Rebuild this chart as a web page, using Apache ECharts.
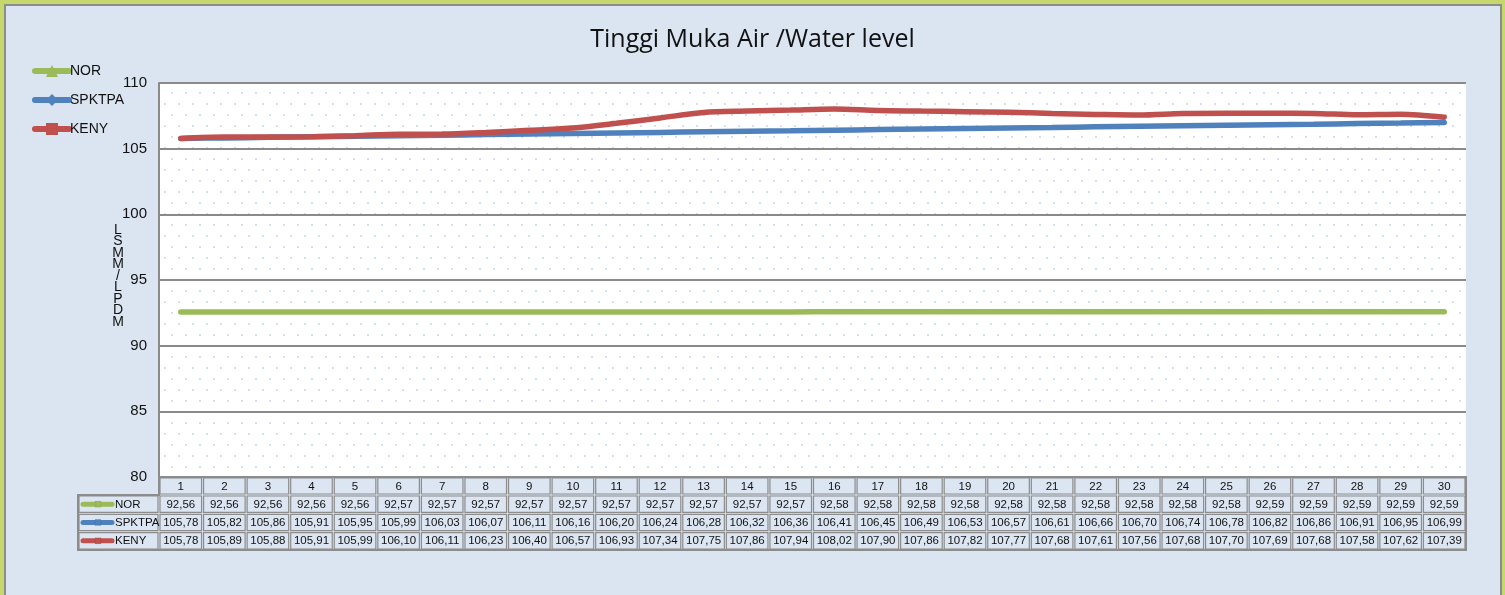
<!DOCTYPE html>
<html><head><meta charset="utf-8">
<script src="https://cdn.jsdelivr.net/npm/echarts@6/dist/echarts.min.js"></script>
<style>html,body{margin:0;padding:0;background:#c5d86e;}#c{width:1505px;height:595px;}</style>
</head><body><div id="c"></div>
<script>
var categories = ['1','2','3','4','5','6','7','8','9','10','11','12','13','14','15','16','17','18','19','20','21','22','23','24','25','26','27','28','29','30'];
var NOR = [92.56,92.56,92.56,92.56,92.56,92.57,92.57,92.57,92.57,92.57,92.57,92.57,92.57,92.57,92.57,92.58,92.58,92.58,92.58,92.58,92.58,92.58,92.58,92.58,92.58,92.59,92.59,92.59,92.59,92.59];
var SPKTPA = [105.78,105.82,105.86,105.91,105.95,105.99,106.03,106.07,106.11,106.16,106.20,106.24,106.28,106.32,106.36,106.41,106.45,106.49,106.53,106.57,106.61,106.66,106.70,106.74,106.78,106.82,106.86,106.91,106.95,106.99];
var KENY = [105.78,105.89,105.88,105.91,105.99,106.10,106.11,106.23,106.40,106.57,106.93,107.34,107.75,107.86,107.94,108.02,107.90,107.86,107.82,107.77,107.68,107.61,107.56,107.68,107.70,107.69,107.68,107.58,107.62,107.39];
var yTicks = [80,85,90,95,100,105,110];
var seriesNames = ['NOR','SPKTPA','KENY'];
var colors = ['#9bbb59','#4f81bd','#c0504d'];
var symbols = ['triangle','diamond','rect'];
var titleText = 'Tinggi Muka Air /Water level';
var yName = ['L','S','M','M','/','L','P','D','M'];

var pc = document.createElement('canvas'); pc.width = 14; pc.height = 22;
var g = pc.getContext('2d'); g.fillStyle = '#fff'; g.fillRect(0,0,14,22);
g.fillStyle = '#d3e0f1';
g.fillRect(3,4,2,2); g.fillRect(10,15,2,2);

var chart = echarts.init(document.getElementById('c'), null, {renderer:'canvas'});
var data = [NOR, SPKTPA, KENY];
var fmt = function(v){ return v.toFixed(2).replace('.', ','); };

var option = {
  backgroundColor: 'transparent',
  animation: false,
  title: {text: titleText, left: 'center', top: 22, textStyle: {fontFamily: 'Open Sans', fontSize: 25, fontWeight: 'normal', color: '#111'}},
  legend: {orient: 'vertical', left: 27, top: 59, itemWidth: 34, itemHeight: 15, itemGap: 15,
    lineStyle: {width: 6, cap: 'round'},
    textStyle: {fontFamily: 'Liberation Sans', fontSize: 14, color: '#111', padding: [0,0,0,-4]},
    data: seriesNames},
  grid: {left: 159, right: 39, top: 83, bottom: 118, show: true, borderWidth: 0,
    backgroundColor: {image: pc, repeat: 'repeat'}},
  xAxis: {type: 'category', data: categories, boundaryGap: true,
    axisLine: {lineStyle: {color: '#8a8a8a', width: 2}}, axisTick: {show: false}, axisLabel: {show: false}},
  yAxis: {type: 'value', min: yTicks[0], max: yTicks[yTicks.length-1], interval: 5,
    axisLine: {show: true, lineStyle: {color: '#8a8a8a', width: 2}},
    axisTick: {show: false},
    axisLabel: {fontFamily: 'Liberation Sans', fontSize: 15, color: '#111', margin: 12},
    splitLine: {lineStyle: {color: '#8a8a8a', width: 2}}},
  series: seriesNames.map(function(n, i){
    return {name: n, type: 'line', data: data[i], symbol: symbols[i], symbolSize: 10, showSymbol: false,
      smooth: 0.3, z: 2 + i,
      lineStyle: {color: colors[i], width: 5.5, cap: 'round'}, itemStyle: {color: colors[i]}};
  })
};
chart.setOption(option);

function buildGraphics(){
  var els = [];
  els.push({type:'rect', shape:{x:5,y:5,width:1496,height:600}, style:{fill:'#dbe5f1', stroke:'#8c8c8c', lineWidth:2}, z:-10, silent:true});
  var x0 = 159, x1 = 1466;
  var w = (x1 - x0) / categories.length;
  var rowsY = [477, 495, 513.3, 531.6, 550];
  var legX = 78;
  for (var i = 0; i < categories.length; i++) {
    var cx = chart.convertToPixel({xAxisIndex:0}, categories[i]);
    for (var r = 0; r < 4; r++) {
      var y0 = rowsY[r], y1 = rowsY[r+1];
      els.push({type:'rect', shape:{x:cx - w/2 + 1, y:y0 + 1, width:w - 2, height:y1 - y0 - 2},
        style:{fill:'#dce6f2', stroke:'#8c8c8c', lineWidth:1.2}, z:5, silent:true});
      var txt = r === 0 ? categories[i] : fmt(data[r-1][i]);
      els.push({type:'text', x:cx, y:(y0+y1)/2 + 0.5, style:{text:txt, align:'center', verticalAlign:'middle',
        fontFamily:'Liberation Sans', fontSize:11.5, fill:'#111'}, z:6, silent:true});
    }
  }
  for (var r = 1; r < 4; r++) {
    var y0 = rowsY[r], y1 = rowsY[r+1], ym = (y0+y1)/2;
    els.push({type:'rect', shape:{x:legX + 1, y:y0 + 1, width:x0 - legX - 2, height:y1 - y0 - 2},
      style:{fill:'#dce6f2', stroke:'#8c8c8c', lineWidth:1.2}, z:5, silent:true});
    els.push({type:'line', shape:{x1:legX+5, y1:ym, x2:legX+34, y2:ym}, style:{stroke:colors[r-1], lineWidth:5, lineCap:'round'}, z:6, silent:true});
    els.push({type:'rect', shape:{x:legX+17, y:ym-3, width:6, height:6}, style:{fill:colors[r-1], stroke:'rgba(0,0,0,0.15)', lineWidth:0.5}, z:7, silent:true});
    els.push({type:'text', x:legX+37, y:ym + 0.5, style:{text:seriesNames[r-1], align:'left', verticalAlign:'middle',
      fontFamily:'Liberation Sans', fontSize:11.5, fill:'#111'}, z:6, silent:true});
  }
  els.push({type:'polyline', shape:{points:[[x0,rowsY[0]],[x1,rowsY[0]],[x1,rowsY[4]],[legX,rowsY[4]],[legX,rowsY[1]],[x0,rowsY[1]],[x0,rowsY[0]]]},
    style:{fill:null, stroke:'#8c8c8c', lineWidth:2}, z:8, silent:true});
  els.push({type:'text', x:118, y:276, style:{text:yName.join('\n'), align:'center', verticalAlign:'middle',
    fontFamily:'Liberation Sans', fontSize:14, lineHeight:11.5, fill:'#111'}, z:6, silent:true});
  chart.setOption({graphic:{elements:els}});
}
buildGraphics();
</script></body></html>
